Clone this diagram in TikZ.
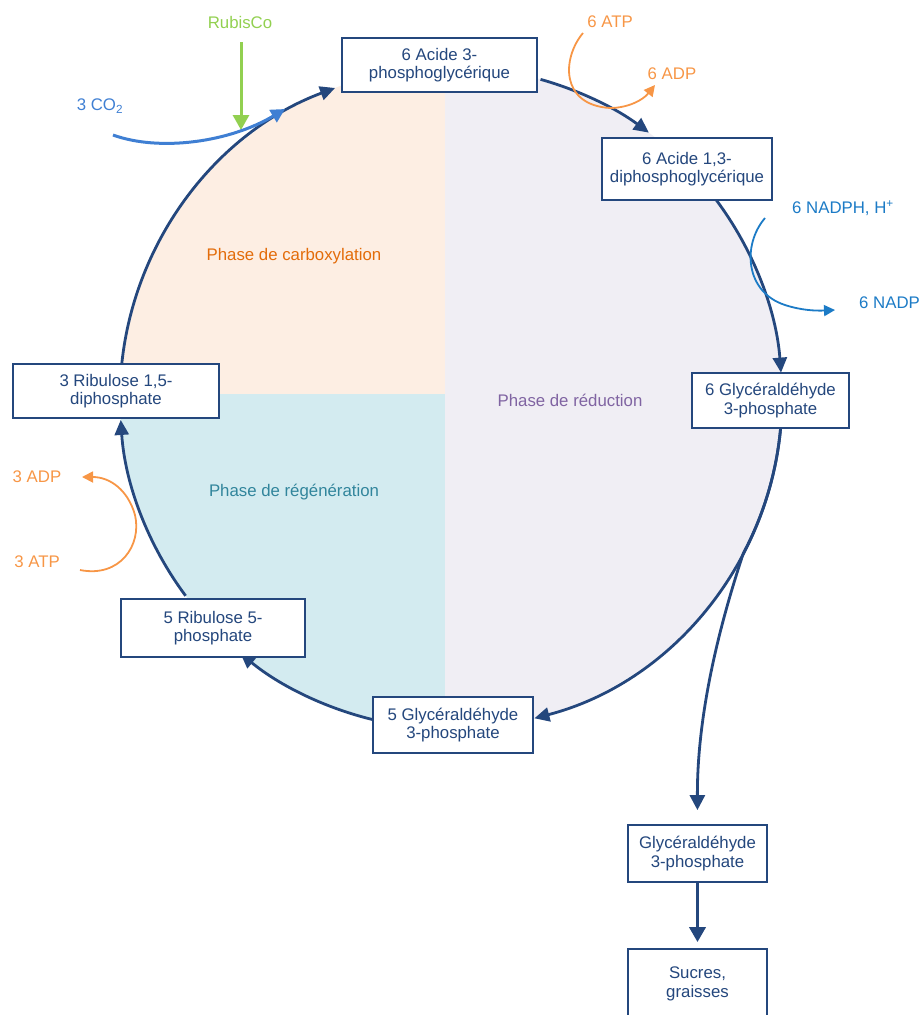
\documentclass[tikz,border=0pt]{standalone}
\usepackage{fontspec}
\setmainfont{Liberation Sans}
\usetikzlibrary{arrows.meta}
\definecolor{cyc}{HTML}{24477D}
\definecolor{peach}{HTML}{FDEEE3}
\definecolor{lblue}{HTML}{D3EBF0}
\definecolor{lav}{HTML}{F0EEF4}
\definecolor{orng}{HTML}{E36C0A}
\definecolor{purp}{HTML}{8064A2}
\definecolor{tealtxt}{HTML}{31859C}
\definecolor{atpc}{HTML}{F79646}
\definecolor{co2c}{HTML}{3F7FD3}
\definecolor{nadphc}{HTML}{1C7BC6}
\definecolor{rubc}{HTML}{92D050}
\begin{document}
\begin{tikzpicture}[x=1pt,y=1pt,
  box/.style={draw=cyc, line width=1.8pt, fill=white, text=cyc, align=center, inner sep=0pt, font=\fontsize{16.8}{18.5}\selectfont},
  cycarrow/.style={draw=cyc, line width=2.8pt, -{Triangle[length=15pt,width=14pt]}},
  lbl/.style={font=\fontsize{16.8}{18.5}\selectfont, inner sep=0pt},
  sidearrow/.style={line width=1.8pt, -{Triangle[length=11pt,width=11pt]}}]
\useasboundingbox (0,0) rectangle (922,-1015);
\clip (0,0) rectangle (922,-1015);
% quadrant fills
\coordinate (O) at (451,-398);
\begin{scope}
  \clip (O) circle[radius=331];
  \fill[peach] (0,-394) rectangle (445,0);
  \fill[lblue] (0,-394) rectangle (445,-1015);
  \fill[lav] (445,0) rectangle (922,-1015);
\end{scope}
% phase labels
\node[lbl, text=orng] (pc) at (294,-256) {Phase de carboxylation};
\node[lbl, text=purp] (pr) at (570,-400) {Phase de réduction};
\node[lbl, text=tealtxt] (pg) at (294,-492) {Phase de régénération};
% points on the cycle
\coordinate (s1) at ([shift={(O)}]174:331);
\coordinate (s2) at ([shift={(O)}]74.3:331);
\coordinate (s3) at ([shift={(O)}]36.9:331);
\coordinate (s4) at ([shift={(O)}]-5.2:331);
\coordinate (s5) at ([shift={(O)}]-103.4:331);
\coordinate (s6) at ([shift={(O)}]-143.3:331);
% cycle arcs
\draw[cycarrow] (s1) arc[start angle=174, end angle=110.5, radius=331];
\draw[cycarrow] (s2) arc[start angle=74.3, end angle=53.3, radius=331];
\draw[cycarrow] (s3) arc[start angle=36.9, end angle=4.4, radius=331];
\draw[cycarrow] (s4) arc[start angle=-5.2, end angle=-75.4, radius=331];
\draw[cycarrow] (s5) arc[start angle=-103.4, end angle=-129.5, radius=331];
\draw[cycarrow] (s6) arc[start angle=-143.3, end angle=-176.2, radius=331];
% boxes
\node[box, minimum width=195pt, minimum height=54pt] (A) at (439.5,-65) {6 Acide 3-\\phosphoglycérique};
\node[box, minimum width=170pt, minimum height=62pt] (B) at (687,-169) {6 Acide 1,3-\\diphosphoglycérique};
\node[box, minimum width=157pt, minimum height=55pt] (C) at (770.5,-400.5) {6 Glycéraldéhyde\\3-phosphate};
\node[box, minimum width=160pt, minimum height=56pt] (D) at (453,-725) {5 Glycéraldéhyde\\3-phosphate};
\node[box, minimum width=184pt, minimum height=58pt] (E) at (213,-628) {5 Ribulose 5-\\phosphate};
\node[box, minimum width=206pt, minimum height=54pt] (F) at (116,-391) {3 Ribulose 1,5-\\diphosphate};
\node[box, minimum width=139pt, minimum height=57pt] (G) at (697.5,-853.5) {Glycéraldéhyde\\3-phosphate};
\node[box, minimum width=139pt, minimum height=70pt] (H) at (697.5,-984) {Sucres,\\graisses};
% branch to products
\draw[cyc, line width=2.8pt, -{Triangle[length=15pt,width=15pt]}, shorten >=14pt] (s4) arc[start angle=-5.2, end angle=-28, radius=331] .. controls (728,-600) and (697,-700) .. (G.north);
\draw[cyc, line width=3.6pt, -{Triangle[length=15pt,width=16pt]}, shorten >=6pt] (G.south) -- (H.north);
% side labels
\node[lbl, text=rubc] (rub) at (240,-22) {RubisCo};
\node[lbl, text=co2c] (co2) at (100,-106) {3 CO\textsubscript{2}};
\node[lbl, text=atpc] (atp6) at (610,-22) {6 ATP};
\node[lbl, text=atpc] (adp6) at (672,-74) {6 ADP};
\node[lbl, text=nadphc] (nadph) at (843,-208) {6 NADPH, H\textsuperscript{+}};
\node[lbl, text=nadphc, anchor=west] (nadp) at (859,-303) {6 NADP};
\node[lbl, text=atpc] (adp3) at (37,-477) {3 ADP};
\node[lbl, text=atpc] (atp3) at (37,-562) {3 ATP};
% side arrows
\coordinate (rubs) at (241,-42);
\coordinate (rube) at (241,-130);
\draw[rubc, line width=3pt, -{Triangle[length=15pt,width=16pt]}] (rubs) -- (rube);
\coordinate (co2s) at (113,-135);
\coordinate (co2e) at (285,-109);
\draw[co2c, line width=3pt, -{Triangle[length=14pt,width=14pt]}] (co2s) .. controls (160,-152) and (230,-142) .. (co2e);
\coordinate (atp6s) at (583,-33);
\coordinate (atp6m) at (610,-108);
\coordinate (atp6e) at (655,-85);
\draw[atpc, sidearrow] (atp6s) .. controls (562,-58) and (560,-105) .. (atp6m) .. controls (628,-108) and (643,-100) .. (atp6e);
\coordinate (nads) at (765,-218);
\coordinate (nadm) at (785,-305);
\coordinate (nade) at (835,-310);
\draw[nadphc, sidearrow] (nads) .. controls (742,-245) and (745,-292) .. (nadm) .. controls (800,-310) and (815,-311) .. (nade);
\coordinate (atp3s) at (80,-570);
\coordinate (atp3m) at (135,-515);
\coordinate (atp3e) at (82,-477);
\draw[atpc, sidearrow] (atp3s) .. controls (120,-578) and (142,-545) .. (atp3m) .. controls (128,-490) and (110,-477) .. (atp3e);
\end{tikzpicture}
\end{document}
